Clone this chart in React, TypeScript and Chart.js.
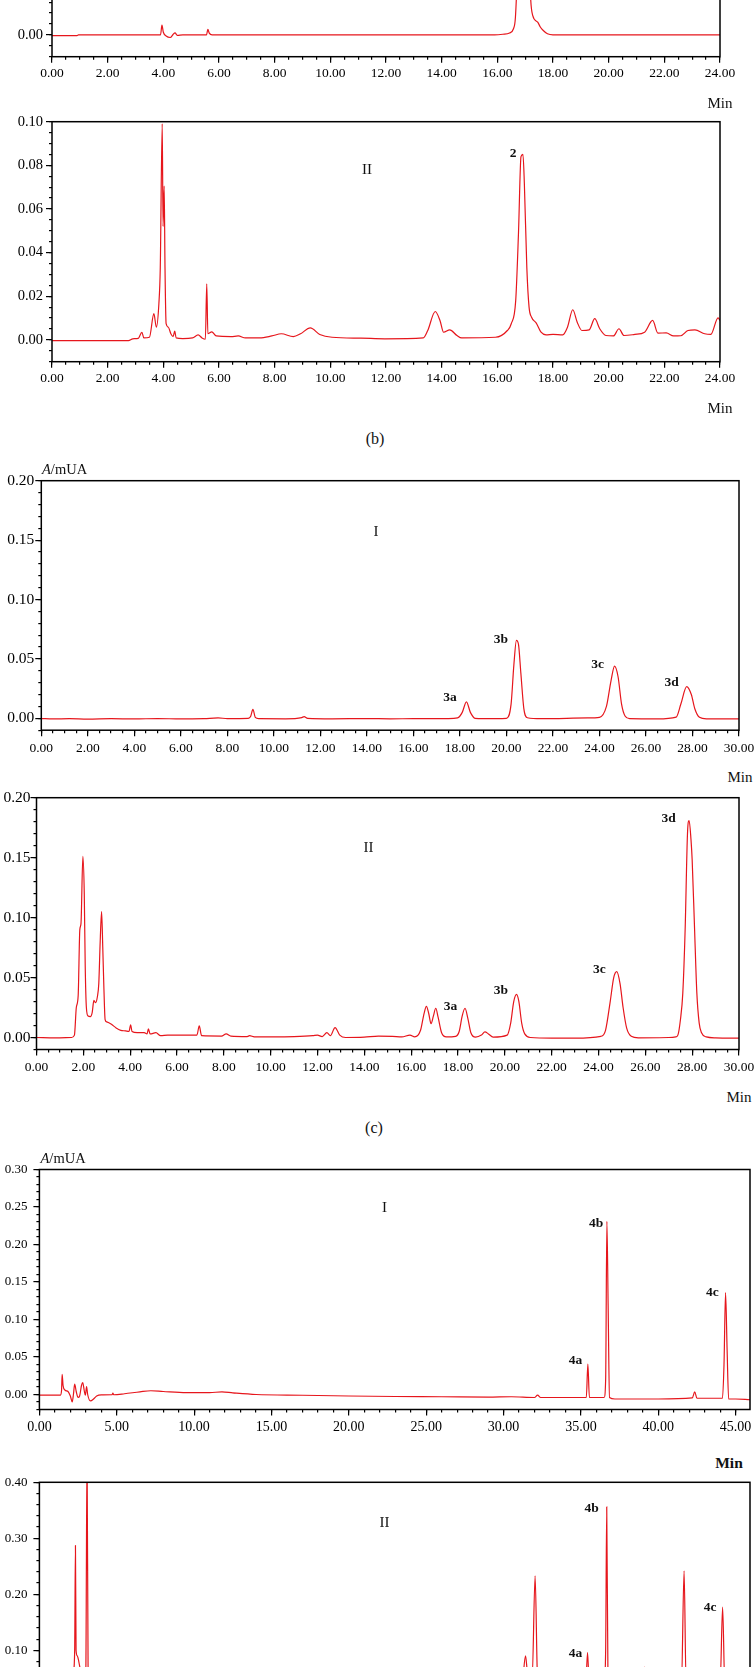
import React, { useEffect, useRef } from "react";
import { Chart, registerables } from "chart.js";

Chart.register(...registerables);

type Pt = [number, number];

// ---------------- data (time in min, absorbance) ----------------
const traceB1: Pt[] = [
  [0, -0.0003], [0.9, -0.0003], [0.95, 0], [3.9, 0], [3.95, 0.0045], [4.0, 0.0012], [4.1, -0.0005],
  [4.25, -0.0012], [4.35, 0.0002], [4.42, 0.0009], [4.5, -0.0002], [4.7, 0], [5.55, 0], [5.6, 0.0025],
  [5.65, 0.0008], [5.75, 0], [15.9, 0], [16.2, 0.0003], [16.44, 0.0009], [16.58, 0.0028], [16.65, 0.0081],
  [16.72, 0.03], [16.8, 0.07], [16.9, 0.1], [17.0, 0.09], [17.1, 0.05], [17.2, 0.016], [17.27, 0.0089],
  [17.45, 0.0058], [17.55, 0.0035], [17.65, 0.002], [17.8, 0.0005], [18.0, 0], [24, 0],
];

const traceB2: Pt[] = [
  [0, -0.0003], [2.75, -0.0003], [2.9, 0.0005], [3.1, 0.0007], [3.23, 0.0035], [3.3, 0.0009], [3.5, 0.0012],
  [3.66, 0.012], [3.75, 0.0058], [3.84, 0.0166], [3.89, 0.033], [3.96, 0.099], [3.99, 0.052], [4.03, 0.0705],
  [4.06, 0.033], [4.1, 0.0074], [4.18, 0.0058], [4.27, 0.0028], [4.35, 0.0015], [4.41, 0.004], [4.46, 0.0009],
  [4.7, 0.0006], [5.05, 0.0009], [5.25, 0.0023], [5.39, 0.0009], [5.51, 0.0003], [5.56, 0.0257], [5.6, 0.0028],
  [5.74, 0.0037], [5.9, 0.0018], [6.43, 0.0015], [6.69, 0.0018], [6.95, 0.0009], [7.46, 0.0009], [7.9, 0.0018],
  [8.24, 0.0028], [8.67, 0.0015], [8.93, 0.0028], [9.28, 0.0055], [9.62, 0.0025], [10.06, 0.0012], [11.1, 0.0008],
  [11.96, 0.0005], [13.34, 0.0009], [13.5, 0.0043], [13.77, 0.013], [13.94, 0.0089], [14.07, 0.0035],
  [14.29, 0.0046], [14.55, 0.002], [14.72, 0.0009], [15.93, 0.0012], [16.36, 0.0043], [16.5, 0.0074],
  [16.66, 0.018], [16.76, 0.049], [16.85, 0.084], [16.92, 0.085], [16.97, 0.072], [17.06, 0.033], [17.14, 0.015],
  [17.23, 0.0104], [17.4, 0.0077], [17.57, 0.0035], [17.75, 0.0023], [18.0, 0.0025], [18.35, 0.0023],
  [18.52, 0.0058], [18.71, 0.0138], [18.87, 0.0081], [19.04, 0.0043], [19.3, 0.0046], [19.5, 0.0097],
  [19.68, 0.0051], [19.9, 0.002], [20.17, 0.0018], [20.37, 0.0051], [20.55, 0.002], [20.94, 0.0025],
  [21.29, 0.0035], [21.58, 0.0089], [21.77, 0.0031], [22.07, 0.0032], [22.33, 0.0018], [22.59, 0.0019],
  [22.85, 0.0043], [23.1, 0.0046], [23.45, 0.0028], [23.67, 0.0025], [23.93, 0.0101], [24.0, 0.0089],
];

const traceC1: Pt[] = [
  [0, -0.0002], [0.5, -0.0005], [1.2, -0.0003], [2, -0.0006], [3, -0.0003], [4, -0.0005], [5, -0.0002],
  [6, -0.0005], [7, -0.0002], [7.6, 0.0003], [8, -0.0002], [8.9, 0], [9.0, 0.0015], [9.1, 0.0075], [9.2, 0.0008],
  [9.35, -0.0003], [10.5, -0.0004], [11.2, 0.0006], [11.3, 0.0014], [11.45, 0], [12.5, -0.0004], [14, -0.0002],
  [15, -0.0004], [16, -0.0003], [17.5, -0.0002], [17.9, 0.0003], [18.1, 0.005], [18.28, 0.0139], [18.45, 0.005],
  [18.65, 0], [19.0, -0.0003], [20.0, 0], [20.2, 0.012], [20.32, 0.045], [20.43, 0.0656], [20.52, 0.062],
  [20.62, 0.038], [20.75, 0.008], [20.9, 0.0005], [21.5, -0.0003], [23.5, 0.0003], [24.0, 0.0008], [24.3, 0.01],
  [24.5, 0.032], [24.65, 0.0439], [24.8, 0.035], [24.95, 0.012], [25.1, 0.002], [25.3, -0.0003], [26.5, -0.0005],
  [27.3, 0.001], [27.5, 0.012], [27.75, 0.0267], [27.95, 0.02], [28.1, 0.008], [28.3, 0.0008], [28.6, -0.0005],
  [30, -0.0005],
];

const traceC2: Pt[] = [
  [0, 0], [0.8, -0.0003], [1.5, 0], [1.62, 0.002], [1.7, 0.025], [1.78, 0.035], [1.85, 0.09], [1.9, 0.095],
  [1.98, 0.151], [2.04, 0.12], [2.08, 0.06], [2.13, 0.025], [2.2, 0.018], [2.3, 0.0175], [2.38, 0.021],
  [2.45, 0.031], [2.52, 0.029], [2.6, 0.034], [2.66, 0.045], [2.72, 0.08], [2.78, 0.105], [2.83, 0.075],
  [2.88, 0.04], [2.93, 0.015], [3.0, 0.013], [3.2, 0.011], [3.4, 0.008], [3.6, 0.006], [3.8, 0.0055],
  [3.95, 0.005], [4.02, 0.0105], [4.08, 0.005], [4.3, 0.004], [4.6, 0.004], [4.72, 0.003], [4.78, 0.0072],
  [4.85, 0.003], [5.1, 0.004], [5.3, 0.0015], [5.6, 0.002], [6.5, 0.002], [6.85, 0.002], [6.95, 0.0097],
  [7.05, 0.0015], [7.9, 0.0012], [8.1, 0.003], [8.3, 0.0012], [9.0, 0.0008], [9.1, 0.0015], [9.3, 0.0006],
  [10.0, 0.0005], [11.0, 0.0007], [11.8, 0.0015], [12.0, 0.002], [12.2, 0.0008], [12.4, 0.004], [12.55, 0.0015],
  [12.75, 0.0083], [12.95, 0.002], [13.2, 0], [14.0, 0.0003], [14.6, 0.0012], [15.2, 0.001], [15.6, 0.0005],
  [15.95, 0.002], [16.15, 0.0005], [16.4, 0.006], [16.55, 0.02], [16.65, 0.026], [16.75, 0.02], [16.85, 0.0115],
  [16.95, 0.018], [17.05, 0.0244], [17.15, 0.017], [17.3, 0.004], [17.5, 0.0005], [17.9, 0.001], [18.05, 0.005],
  [18.18, 0.018], [18.3, 0.0244], [18.42, 0.016], [18.55, 0.004], [18.75, 0.0003], [19.0, 0.002], [19.15, 0.0047],
  [19.3, 0.003], [19.5, 0.0003], [20.1, 0.002], [20.25, 0.012], [20.38, 0.03], [20.5, 0.036], [20.6, 0.03],
  [20.72, 0.012], [20.85, 0.003], [21.1, 0], [22, -0.0005], [23, -0.0005], [24.1, 0.001], [24.3, 0.006],
  [24.5, 0.03], [24.65, 0.05], [24.78, 0.055], [24.92, 0.045], [25.05, 0.025], [25.2, 0.008], [25.4, 0.001],
  [25.7, -0.0003], [27.0, 0], [27.3, 0.0005], [27.39, 0.002], [27.5, 0.015], [27.6, 0.037], [27.7, 0.09],
  [27.8, 0.17], [27.87, 0.181], [27.95, 0.165], [28.0, 0.148], [28.1, 0.092], [28.2, 0.037], [28.3, 0.012],
  [28.4, 0.004], [28.6, 0.0005], [29, -0.0003], [30, -0.0005],
];

const traceD1: Pt[] = [
  [0, -0.0009], [1.35, -0.0009], [1.43, 0.005], [1.47, 0.027], [1.53, 0.012], [1.65, 0.006], [1.85, 0.004],
  [2.0, -0.002], [2.12, -0.0098], [2.2, 0.0], [2.28, 0.0138], [2.38, 0.004], [2.5, -0.004], [2.6, -0.002],
  [2.72, 0.012], [2.8, 0.016], [2.9, 0.005], [2.97, -0.001], [3.05, 0.0105], [3.12, 0.0], [3.3, -0.0085],
  [3.5, -0.006], [3.7, -0.002], [4.0, -0.0005], [4.7, -0.0003], [4.75, 0.002], [4.8, -0.0003], [5.5, 0.001],
  [6.5, 0.0036], [7.2, 0.005], [8.0, 0.004], [9.5, 0.0025], [11.0, 0.0025], [11.8, 0.0035], [12.5, 0.0022],
  [14.0, 0.0], [17.0, -0.001], [20.0, -0.002], [23.0, -0.0027], [26.0, -0.003], [29.0, -0.0035], [30.5, -0.003],
  [32.0, -0.004], [32.2, -0.0008], [32.4, -0.004], [34.5, -0.004], [35.35, -0.004], [35.45, 0.0405],
  [35.55, -0.004], [36.5, -0.004], [36.6, 0.02], [36.68, 0.231], [36.76, 0.12], [36.85, -0.004], [37.2, -0.006],
  [40.0, -0.006], [42.2, -0.0045], [42.36, 0.0036], [42.5, -0.005], [44.15, -0.005], [44.25, 0.04],
  [44.35, 0.136], [44.45, 0.06], [44.55, -0.006], [45.0, -0.006], [45.93, -0.007],
];

const traceD2: Pt[] = [
  [0, 0.0], [1.3, 0.0], [1.5, 0.03], [1.7, 0.02], [2.0, 0.04], [2.2, 0.06], [2.28, 0.1], [2.33, 0.287],
  [2.37, 0.1], [2.45, 0.09], [2.6, 0.072], [2.75, 0.05], [2.95, 0.045], [3.0, 0.06], [3.08, 0.46], [3.15, 0.05],
  [3.4, 0.03], [4.5, 0.02], [10, 0.015], [20, 0.012], [30, 0.02], [31.2, 0.04], [31.42, 0.09], [31.55, 0.06],
  [31.85, 0.05], [32.04, 0.233], [32.2, 0.05], [33, 0.03], [35.3, 0.03], [35.43, 0.096], [35.55, 0.03],
  [36.5, 0.04], [36.6, 0.1], [36.67, 0.356], [36.75, 0.05], [38.9, 0.03], [39.1, 0.07], [39.3, 0.03],
  [41.5, 0.04], [41.67, 0.242], [41.8, 0.04], [44.0, 0.04], [44.16, 0.177], [44.3, 0.04], [45.93, 0.03],
];

// peak / trace annotations, in data coordinates
type Note = { t: string; x: number; y: number; roman?: boolean };
const notesB2: Note[] = [
  { t: "II", x: 11.32, y: 0.0778, roman: true },
  { t: "2", x: 16.57, y: 0.0856 },
];
const notesC1: Note[] = [
  { t: "I", x: 14.39, y: 0.157, roman: true },
  { t: "3a", x: 17.57, y: 0.0173 },
  { t: "3b", x: 19.76, y: 0.0667 },
  { t: "3c", x: 23.92, y: 0.0457 },
  { t: "3d", x: 27.1, y: 0.03 },
];
const notesC2: Note[] = [
  { t: "II", x: 14.18, y: 0.158, roman: true },
  { t: "3a", x: 17.68, y: 0.0258 },
  { t: "3b", x: 19.83, y: 0.039 },
  { t: "3c", x: 24.04, y: 0.057 },
  { t: "3d", x: 27.0, y: 0.183 },
];
const notesD1: Note[] = [
  { t: "I", x: 22.3, y: 0.2487, roman: true },
  { t: "4a", x: 34.65, y: 0.0449 },
  { t: "4b", x: 35.98, y: 0.2286 },
  { t: "4c", x: 43.5, y: 0.1358 },
];
const notesD2: Note[] = [
  { t: "II", x: 22.3, y: 0.328, roman: true },
  { t: "4a", x: 34.65, y: 0.0946 },
  { t: "4b", x: 35.7, y: 0.3536 },
  { t: "4c", x: 43.35, y: 0.1768 },
];

// ---------------- styling / layout ----------------
const RED = "rgb(230, 22, 28)";
const SERIF = "'Liberation Serif', 'Times New Roman', serif";

type Axis = { min: number; max: number; step: number; minor: number };
type PanelCfg = {
  canvasTop: number;
  canvasH: number;
  plot: { left: number; right: number; top: number; bottom: number };
  x: Axis;
  y: Axis;
  xFont: number;
  yFont: number;
  xPad: number;
  yPad: number;
  data: Pt[];
  notes: Note[];
};

const axisB_X: Axis = { min: 0, max: 24, step: 2, minor: 0.5 };
const axisB_Y: Axis = { min: -0.01, max: 0.1, step: 0.02, minor: 0.005 };
const axisC_X: Axis = { min: 0, max: 30, step: 2, minor: 0.5 };
const axisC_Y: Axis = { min: -0.01, max: 0.2, step: 0.05, minor: 0.01 };
const axisD_X: Axis = { min: 0, max: 45.93, step: 5, minor: 1 };
const axisD1_Y: Axis = { min: -0.02, max: 0.3, step: 0.05, minor: 0.01 };
const axisD2_Y: Axis = { min: -0.02, max: 0.4, step: 0.1, minor: 0.02 };

const panels: PanelCfg[] = [
  { canvasTop: -200, canvasH: 300, plot: { left: 52, right: 720, top: -183.3, bottom: 56.7 }, x: axisB_X, y: axisB_Y, xFont: 13.5, yFont: 14.5, xPad: 3, yPad: 3, data: traceB1, notes: [] },
  { canvasTop: 110, canvasH: 290, plot: { left: 52, right: 720, top: 121.7, bottom: 361.7 }, x: axisB_X, y: axisB_Y, xFont: 13.5, yFont: 14.5, xPad: 3, yPad: 3, data: traceB2, notes: notesB2 },
  { canvasTop: 470, canvasH: 295, plot: { left: 41.3, right: 739, top: 480.7, bottom: 730.2 }, x: axisC_X, y: axisC_Y, xFont: 13.5, yFont: 15.5, xPad: 4, yPad: 1, data: traceC1, notes: notesC1 },
  { canvasTop: 785, canvasH: 295, plot: { left: 36.5, right: 739, top: 797.7, bottom: 1049.5 }, x: axisC_X, y: axisC_Y, xFont: 13.5, yFont: 15.5, xPad: 4, yPad: 0, data: traceC2, notes: notesC2 },
  { canvasTop: 1160, canvasH: 290, plot: { left: 39.4, right: 750, top: 1169.5, bottom: 1409.5 }, x: axisD_X, y: axisD1_Y, xFont: 14, yFont: 13, xPad: 3, yPad: 6, data: traceD1, notes: notesD1 },
  { canvasTop: 1472, canvasH: 260, plot: { left: 39.4, right: 750, top: 1482.3, bottom: 1717.5 }, x: axisD_X, y: axisD2_Y, xFont: 14, yFont: 13, xPad: 3, yPad: 6, data: traceD2, notes: notesD2 },
];

const framePlugin = {
  id: "frame",
  afterDraw(chart: any, _args: any, opts: any) {
    const { ctx, chartArea: a } = chart;
    ctx.save();
    ctx.strokeStyle = "#000";
    ctx.lineWidth = 1.5;
    ctx.strokeRect(a.left, a.top, a.right - a.left, a.bottom - a.top);
    const notes: Note[] = opts.notes || [];
    ctx.fillStyle = "#111";
    ctx.textAlign = "center";
    ctx.textBaseline = "middle";
    for (const n of notes) {
      ctx.font = n.roman ? `15px ${SERIF}` : `bold 13.5px ${SERIF}`;
      ctx.fillText(n.t, chart.scales.x.getPixelForValue(n.x), chart.scales.y.getPixelForValue(n.y));
    }
    ctx.restore();
  },
};

function buildConfig(p: PanelCfg): any {
  const bottomSpace = p.canvasTop + p.canvasH - p.plot.bottom;
  const pad = {
    left: 0,
    right: 754 - p.plot.right,
    top: p.plot.top - p.canvasTop,
    bottom: 0,
  };
  const fitX = (h: number) => (s: any) => {
    s.height = h;
    s.paddingLeft = 0;
    s.paddingRight = 0;
  };
  const fitY = (w: number) => (s: any) => {
    s.width = w;
    s.paddingTop = 0;
    s.paddingBottom = 0;
  };
  const fmt = (v: any) => Number(v).toFixed(2);
  const grid = (len: number) => ({ drawOnChartArea: false, drawTicks: true, tickLength: len, color: "#000", lineWidth: 1.2 });
  return {
    type: "line",
    data: {
      datasets: [
        {
          data: p.data.map(([x, y]) => ({ x, y })),
          borderColor: RED,
          borderWidth: 1.2,
          pointRadius: 0,
          cubicInterpolationMode: "monotone",
          fill: false,
          xAxisID: "x",
          yAxisID: "y",
        },
      ],
    },
    options: {
      animation: false,
      responsive: false,
      devicePixelRatio: 1,
      events: [],
      layout: { padding: pad },
      plugins: { legend: { display: false }, tooltip: { enabled: false }, frame: { notes: p.notes } },
      scales: {
        x: {
          type: "linear", position: "bottom", weight: 1, min: p.x.min, max: p.x.max,
          ticks: { stepSize: p.x.step, includeBounds: false, autoSkip: false, maxRotation: 0, minRotation: 0, padding: p.xPad, color: "#000", font: { family: SERIF, size: p.xFont }, callback: fmt },
          grid: grid(6), border: { display: false }, afterFit: fitX(bottomSpace),
        },
        x2: {
          type: "linear", position: "bottom", weight: 0, min: p.x.min, max: p.x.max,
          ticks: { stepSize: p.x.minor, includeBounds: false, autoSkip: false, display: false },
          grid: grid(3), border: { display: false }, afterFit: fitX(0),
        },
        y: {
          type: "linear", position: "left", weight: 1, min: p.y.min, max: p.y.max,
          ticks: { stepSize: p.y.step, includeBounds: false, autoSkip: false, padding: p.yPad, color: "#000", font: { family: SERIF, size: p.yFont }, callback: fmt },
          grid: grid(6), border: { display: false }, afterFit: fitY(p.plot.left),
        },
        y2: {
          type: "linear", position: "left", weight: 0, min: p.y.min, max: p.y.max,
          ticks: { stepSize: p.y.minor, includeBounds: false, autoSkip: false, display: false },
          grid: grid(3), border: { display: false }, afterFit: fitY(0),
        },
      },
    },
    plugins: [framePlugin],
  };
}

function Panel({ cfg }: { cfg: PanelCfg }) {
  const ref = useRef<HTMLCanvasElement>(null);
  useEffect(() => {
    const chart = new Chart(ref.current as HTMLCanvasElement, buildConfig(cfg));
    return () => chart.destroy();
  }, [cfg]);
  return (
    <canvas
      ref={ref}
      width={754}
      height={cfg.canvasH}
      style={{ position: "absolute", left: 0, top: cfg.canvasTop, width: 754, height: cfg.canvasH }}
    />
  );
}

const txt = (x: number, y: number, size: number, content: React.ReactNode, bold = false, align: "center" | "left" = "center") => (
  <div
    style={{
      position: "absolute",
      left: x,
      top: y,
      transform: align === "center" ? "translate(-50%, -50%)" : "translate(0, -50%)",
      fontFamily: SERIF,
      fontSize: size,
      fontWeight: bold ? "bold" : "normal",
      color: "#111",
      whiteSpace: "nowrap",
      lineHeight: 1,
    }}
  >
    {content}
  </div>
);

export default function App() {
  return (
    <div style={{ position: "fixed", left: 0, top: 0, width: 754, height: 1667, overflow: "hidden", background: "#fff" }}>
      {panels.map((p, i) => (
        <Panel key={i} cfg={p} />
      ))}
      {txt(720, 103, 15, "Min")}
      {txt(720, 408, 15, "Min")}
      {txt(375, 439, 16, "(b)")}
      {txt(42, 469, 14.5, <><i>A</i>/mUA</>, false, "left")}
      {txt(740, 777, 15, "Min")}
      {txt(739, 1097, 15, "Min")}
      {txt(374, 1128, 16, "(c)")}
      {txt(40.5, 1157.5, 14.5, <><i>A</i>/mUA</>, false, "left")}
      {txt(729, 1463, 15.5, "Min", true)}
    </div>
  );
}
